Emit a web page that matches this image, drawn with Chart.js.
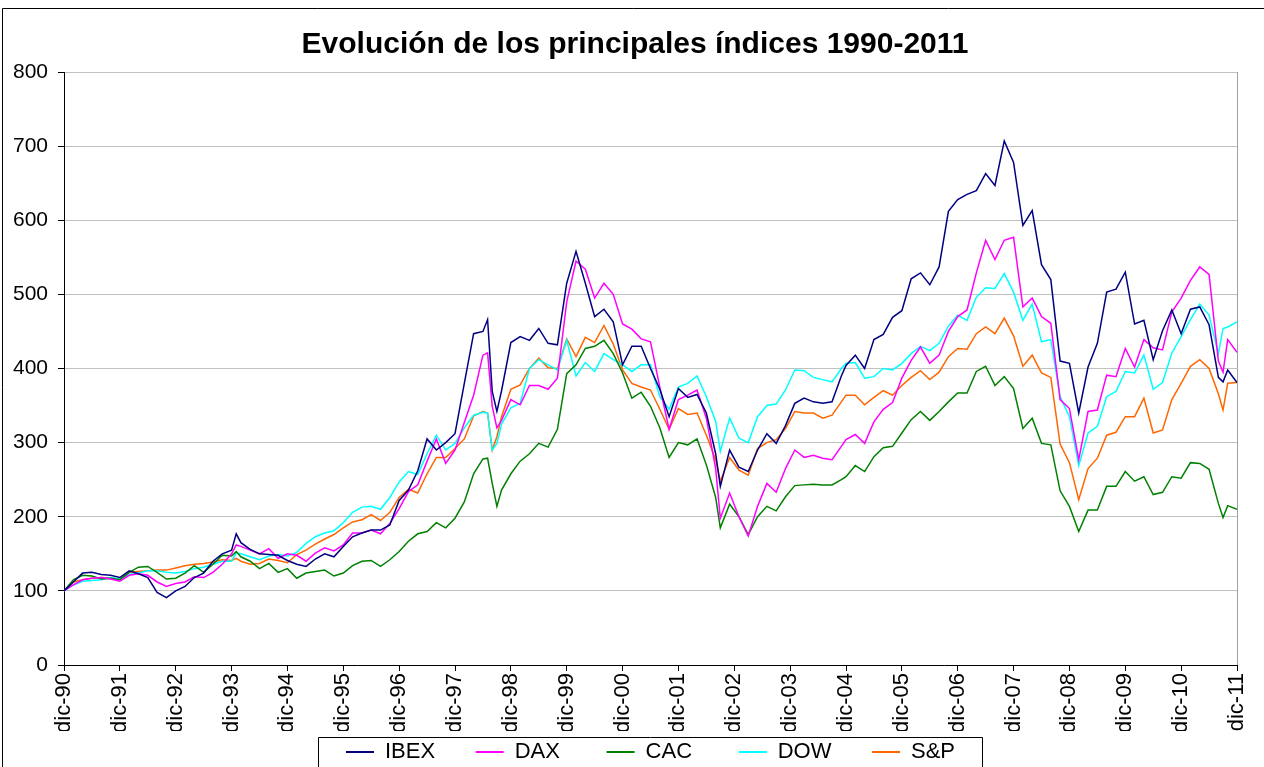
<!DOCTYPE html>
<html lang="es">
<head>
<meta charset="utf-8">
<title>Evolución de los principales índices 1990-2011</title>
<script src="https://cdn.jsdelivr.net/npm/chart.js@4.4.1/dist/chart.umd.min.js"></script>
<style>
    html, body { margin: 0; padding: 0; background: #fff; }
    #contenedor { width: 1264px; height: 767px; position: relative; }
</style>
</head>
<body>
<div id="contenedor"><canvas id="graficaIndices"></canvas></div>
<script>
// Mes de cada punto, contado desde dic-90 (0) hasta dic-11 (252)
const meses = [0,2,4,6,8,10,12,14,16,18,20,22,24,26,28,30,32,34,36,37,38,40,
    42,44,46,48,50,52,54,56,58,60,62,64,66,68,70,72,74,76,78,80,82,84,
    86,88,90,91,92,93,94,96,98,100,102,104,106,108,110,112,114,116,118,120,122,124,126,
    128,130,132,134,136,138,140,141,143,145,147,149,151,153,155,157,159,161,163,165,167,168,
    170,172,174,176,178,180,182,184,186,188,190,192,194,196,198,200,202,204,206,208,210,
    212,214,216,218,220,222,224,226,228,230,232,234,236,238,240,242,244,246,248,249,250,252];

const etiquetasX = ['dic-90','dic-91','dic-92','dic-93','dic-94','dic-95','dic-96','dic-97',
    'dic-98','dic-99','dic-00','dic-01','dic-02','dic-03','dic-04','dic-05','dic-06','dic-07',
    'dic-08','dic-09','dic-10','dic-11'];

const nombres = ['IBEX', 'DAX', 'CAC', 'DOW', 'S&P'];

// Base 100 en dic-90
const ibex = [100,112,124,125,122,121,118,127,123,118,98,91,100,106,118,124,140,150,155,177,165,156,
    150,149,148,141,136,133,143,150,146,160,173,178,182,182,189,222,236,262,305,290,300,312,
    380,447,450,466,369,342,370,435,443,438,454,434,432,515,558,515,470,480,463,405,430,430,400,
    372,335,373,361,365,340,285,241,290,267,261,290,312,299,323,353,360,355,353,355,390,404,
    418,400,439,446,469,478,521,529,513,537,612,628,635,640,663,647,707,678,593,613,540,
    520,410,407,340,402,434,503,507,530,460,465,412,451,479,447,480,483,459,388,382,398,381];

const dax = [100,108,115,117,118,116,113,121,123,121,112,106,110,112,119,118,125,136,150,162,160,155,
    150,157,144,150,148,140,151,158,154,162,178,178,182,177,191,211,234,243,275,305,272,290,
    327,364,418,421,349,320,330,358,351,377,377,372,387,490,545,534,495,515,500,460,453,440,436,
    375,318,358,364,371,333,265,198,232,200,174,214,245,233,265,290,280,283,279,277,295,304,
    311,299,328,345,354,387,411,429,407,418,450,470,479,529,573,547,573,577,483,495,470,
    461,358,346,277,342,344,391,389,427,402,439,428,425,476,495,519,537,527,410,395,439,422];

const cac = [100,115,121,120,116,117,115,125,132,133,125,116,117,124,134,125,136,148,147,153,146,140,
    130,137,125,130,117,124,126,128,120,124,134,140,141,133,142,153,167,177,180,192,185,198,
    220,258,278,279,245,214,236,258,275,285,299,294,318,393,405,427,430,438,420,394,360,368,349,
    320,280,300,297,305,270,226,185,217,200,176,200,214,208,227,242,243,244,243,243,250,254,
    269,261,281,293,295,313,331,342,330,342,355,367,367,396,403,377,389,373,319,333,299,
    297,235,214,180,209,209,241,241,261,248,254,230,233,254,252,273,272,264,218,199,215,210];

const dow = [100,108,113,114,115,118,116,122,124,127,127,125,124,126,130,132,136,140,140,151,150,146,
    142,147,149,147,152,164,173,178,181,192,206,213,214,210,226,247,261,257,285,310,290,299,
    320,337,341,340,290,299,325,347,353,400,412,405,398,438,390,408,396,420,412,405,396,405,405,
    362,345,375,380,390,362,329,288,333,306,300,335,350,352,371,398,397,388,385,382,400,407,
    408,387,389,400,398,407,420,430,424,434,457,472,465,496,509,508,528,503,465,487,436,
    439,362,335,269,313,322,362,369,396,394,418,372,381,421,443,466,487,472,420,454,456,463];

const sp = [100,112,115,117,118,117,116,125,126,127,128,128,131,134,136,137,139,142,141,144,140,136,
    137,143,141,138,149,155,163,170,176,185,193,196,203,195,206,226,237,232,258,280,280,292,
    305,336,342,340,290,308,335,372,378,400,414,401,400,440,416,442,435,458,433,398,380,375,371,
    345,318,346,338,340,310,277,248,280,263,256,292,300,304,319,342,340,340,333,337,355,364,
    364,351,361,370,364,377,388,397,385,395,416,427,426,447,456,447,468,444,403,418,394,
    388,298,273,223,265,279,310,314,335,335,360,313,317,358,380,403,412,400,366,344,380,381];

const familia = 'Liberation Sans, Arial, Helvetica, sans-serif';
Chart.defaults.font.family = familia;
Chart.defaults.color = '#000';

document.addEventListener('DOMContentLoaded', function() {
    dibujarGrafica();
});

// marco exterior, borde derecho del área de trazado y caja de la leyenda
const marcoPlugin = {
    id: 'marco',
    afterDraw(chart) {
        const ctx = chart.ctx;
        const area = chart.chartArea;
        ctx.save();
        ctx.lineWidth = 1;

        ctx.strokeStyle = '#a0a0a0';
        ctx.beginPath();
        ctx.moveTo(Math.round(area.right) + 0.5, area.top);
        ctx.lineTo(Math.round(area.right) + 0.5, area.bottom);
        ctx.stroke();

        ctx.strokeStyle = '#000';
        ctx.beginPath();
        ctx.moveTo(2.5, chart.height);
        ctx.lineTo(2.5, 8.5);
        ctx.lineTo(chart.width, 8.5);
        ctx.stroke();

        const cajas = chart.legend.legendHitBoxes;
        if (cajas && cajas.length) {
            const ultima = cajas[cajas.length - 1];
            const izq = Math.round(cajas[0].left - 28) + 0.5;
            const der = Math.round(ultima.left + ultima.width + 27) + 0.5;
            const arriba = Math.round(chart.legend.top + 6) + 0.5;
            ctx.beginPath();
            ctx.moveTo(izq, chart.height + 2);
            ctx.lineTo(izq, arriba);
            ctx.lineTo(der, arriba);
            ctx.lineTo(der, chart.height + 2);
            ctx.stroke();
        }
        ctx.restore();
    }
};

function dibujarGrafica() {
    const colores = ['#000080', '#ff00ff', '#008000', '#00ffff', '#ff6600'];
    const series = [ibex, dax, cac, dow, sp];

    const datasets = series.map((valores, i) => ({
        label: nombres[i],
        data: valores.map((v, j) => ({ x: meses[j], y: v })),
        borderColor: colores[i],
        backgroundColor: colores[i],
        borderWidth: 1.5,
        pointRadius: 0,
        pointHoverRadius: 0,
        tension: 0,
        fill: false
    }));

    const ctx = document.getElementById('graficaIndices').getContext('2d');

    new Chart(ctx, {
        type: 'line',
        data: { datasets: datasets },
        options: {
            responsive: true,
            maintainAspectRatio: false,
            animation: false,
            events: [],
            layout: { padding: { left: 10, right: 4, top: 0, bottom: -6 } },
            scales: {
                x: {
                    type: 'linear',
                    min: 0,
                    max: 252,
                    afterBuildTicks: function(scale) {
                        scale.ticks = etiquetasX.map((t, i) => ({ value: i * 12 }));
                    },
                    afterFit: function(scale) {
                        scale.height = 66;
                        scale.paddingLeft = 0;
                        scale.paddingRight = 0;
                    },
                    ticks: {
                        autoSkip: false,
                        minRotation: 90,
                        maxRotation: 90,
                        padding: 2,
                        color: '#000',
                        font: { size: 22 },
                        callback: function(value) {
                            return etiquetasX[Math.round(value / 12)];
                        }
                    },
                    grid: {
                        drawOnChartArea: false,
                        drawTicks: true,
                        tickLength: 6,
                        tickColor: '#000'
                    },
                    border: { color: '#000', width: 1 }
                },
                y: {
                    min: 0,
                    max: 800,
                    afterFit: function(scale) {
                        scale.width = 54;
                    },
                    ticks: {
                        stepSize: 100,
                        padding: 10,
                        color: '#000',
                        font: { size: 21 }
                    },
                    grid: {
                        color: '#c0c0c0',
                        tickColor: '#000',
                        tickLength: 6
                    },
                    border: { color: '#000', width: 1 }
                },
                // eje vacío a la derecha, solo reserva el margen del área de trazado
                margenDer: {
                    type: 'linear',
                    position: 'right',
                    min: 0,
                    max: 800,
                    afterFit: function(scale) {
                        scale.width = 23;
                    },
                    ticks: { display: false },
                    grid: { display: false },
                    border: { display: false }
                }
            },
            plugins: {
                title: {
                    display: true,
                    text: 'Evolución de los principales índices 1990-2011',
                    color: '#000',
                    font: { size: 30, weight: 'bold' },
                    padding: { top: 27, bottom: 9 }
                },
                legend: {
                    position: 'bottom',
                    fullSize: false,
                    labels: {
                        boxWidth: 28,
                        boxHeight: 2,
                        padding: 10,
                        color: '#000',
                        font: { size: 22 },
                        generateLabels: function(chart) {
                            const items = Chart.defaults.plugins.legend.labels.generateLabels(chart);
                            const c = chart.ctx;
                            c.save();
                            c.font = '22px ' + familia;
                            // rellenar con espacios para que todas las entradas ocupen lo mismo
                            items.forEach((it, i) => {
                                it.lineWidth = 0;
                                if (i < items.length - 1) {
                                    let t = it.text;
                                    while (c.measureText(t + ' ').width <= 86) t += ' ';
                                    it.text = t;
                                }
                            });
                            c.restore();
                            return items;
                        }
                    }
                },
                tooltip: { enabled: false }
            }
        },
        plugins: [marcoPlugin]
    });
}
</script>
</body>
</html>
